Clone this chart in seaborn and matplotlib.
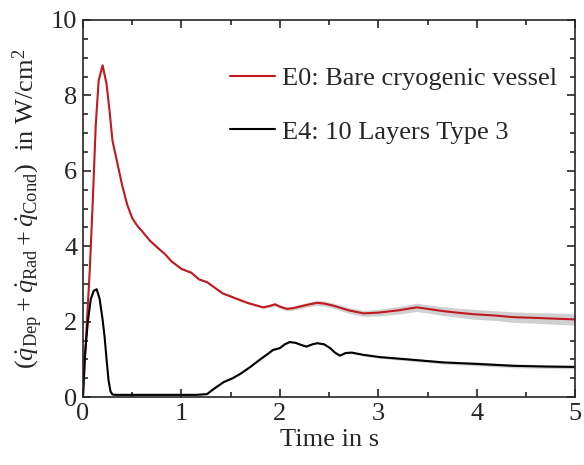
import numpy as np
import matplotlib
matplotlib.use("Agg")
import matplotlib.pyplot as plt
import seaborn as sns

# E0: bare cryogenic vessel (red)
t_e0 = [0.0, 0.03, 0.07, 0.1, 0.13, 0.16, 0.2, 0.24, 0.27, 0.3, 0.35, 0.4, 0.45, 0.5, 0.55,
        0.6, 0.68, 0.75, 0.83, 0.9, 1.0, 1.1, 1.18, 1.26, 1.35, 1.42, 1.55, 1.67, 1.75, 1.83,
        1.9, 1.95, 2.0, 2.07, 2.14, 2.2, 2.3, 2.38, 2.45, 2.55, 2.7, 2.85, 3.0, 3.2, 3.39,
        3.5, 3.66, 3.8, 3.96, 4.2, 4.37, 4.6, 4.8, 5.0]
q_e0 = [0.0, 1.5, 3.4, 5.2, 7.2, 8.4, 8.8, 8.3, 7.6, 6.8, 6.2, 5.6, 5.1, 4.75, 4.55,
        4.4, 4.15, 3.98, 3.8, 3.6, 3.4, 3.3, 3.12, 3.05, 2.88, 2.75, 2.62, 2.5, 2.44, 2.38,
        2.42, 2.46, 2.4, 2.34, 2.36, 2.4, 2.46, 2.5, 2.48, 2.42, 2.3, 2.22, 2.24,
        2.3, 2.38, 2.34, 2.28, 2.24, 2.2, 2.16, 2.12, 2.1, 2.08, 2.06]
err_e0 = [0.02] * 15 + [0.03] * 15 + [0.04, 0.04, 0.05, 0.05, 0.05, 0.06, 0.06, 0.07, 0.07, 0.07,
          0.08, 0.08, 0.09, 0.1, 0.11, 0.11, 0.12, 0.12, 0.13, 0.13, 0.14, 0.14, 0.15, 0.15]

# E4: 10 layers type 3 (black)
t_e4 = [0.0, 0.02, 0.05, 0.08, 0.11, 0.14, 0.17, 0.2, 0.22, 0.24, 0.26, 0.28, 0.3, 0.33,
        0.5, 0.8, 1.0, 1.15, 1.26, 1.33, 1.43, 1.52, 1.6, 1.7, 1.8, 1.88, 1.93, 2.0, 2.05,
        2.1, 2.16, 2.22, 2.27, 2.33, 2.38, 2.45, 2.51, 2.56, 2.61, 2.67, 2.73, 2.85, 3.02,
        3.3, 3.66, 4.0, 4.37, 4.7, 5.0]
q_e4 = [0.0, 1.1, 2.0, 2.6, 2.82, 2.86, 2.6, 2.05, 1.6, 1.0, 0.45, 0.15, 0.07, 0.06,
        0.06, 0.06, 0.06, 0.06, 0.08, 0.22, 0.4, 0.5, 0.62, 0.8, 1.0, 1.15, 1.25, 1.3, 1.4,
        1.46, 1.44, 1.38, 1.34, 1.4, 1.43, 1.4, 1.3, 1.18, 1.1, 1.17, 1.18, 1.12, 1.06,
        1.0, 0.92, 0.88, 0.83, 0.81, 0.8]
err_e4 = [0.02] * 40 + [0.03, 0.03, 0.03, 0.04, 0.04, 0.05, 0.05, 0.05, 0.05]

sns.set_style("ticks")
plt.rcParams["font.family"] = ["Liberation Serif", "DejaVu Serif"]
plt.rcParams["mathtext.fontset"] = "custom"
plt.rcParams["mathtext.rm"] = "Liberation Serif"
plt.rcParams["mathtext.it"] = "Liberation Serif:italic"
plt.rcParams["mathtext.bf"] = "Liberation Serif:bold"

fig = plt.figure(figsize=(5.84, 4.65), dpi=100)
ax = fig.add_axes([0.142, 0.146, 0.843, 0.811])

red = "#c01a1f"
e0_lo = np.array(q_e0) - np.array(err_e0)
e0_hi = np.array(q_e0) + np.array(err_e0)
e4_lo = np.array(q_e4) - np.array(err_e4)
e4_hi = np.array(q_e4) + np.array(err_e4)
ax.fill_between(t_e0, e0_lo, e0_hi, color="#d0d0d0", lw=0)
ax.fill_between(t_e4, e4_lo, e4_hi, color="#d0d0d0", lw=0)
sns.lineplot(x=t_e0, y=q_e0, ax=ax, color=red, lw=1.5, sort=False, label="E0: Bare cryogenic vessel")
sns.lineplot(x=t_e4, y=q_e4, ax=ax, color="black", lw=1.5, sort=False, label="E4: 10 Layers Type 3")

ax.set_xlim(0, 5)
ax.set_ylim(0, 10)
ax.set_xticks([0, 1, 2, 3, 4, 5])
ax.set_yticks([0, 2, 4, 6, 8, 10])
ax.set_xticks(np.arange(0, 5.01, 0.5), minor=True)
ax.set_yticks(np.arange(0, 10.01, 0.5), minor=True)
ax.tick_params(which="both", direction="in", top=True, right=True, labelsize=19, width=1.2, pad=4)
ax.tick_params(which="major", length=6)
ax.tick_params(which="minor", length=3.5)
for s in ax.spines.values():
    s.set_linewidth(1.2)

ax.set_xlabel("Time in s", fontsize=19, labelpad=3)
ax.set_ylabel(r"$(\dot{q}_{\mathrm{Dep}}+\dot{q}_{\mathrm{Rad}}+\dot{q}_{\mathrm{Cond}})$  in W/cm$^2$",
              fontsize=19, labelpad=4)

ax.legend(loc="upper right", frameon=False, fontsize=19, handlelength=1.7,
          handletextpad=0.25, labelspacing=1.15, borderaxespad=0, bbox_to_anchor=(0.984, 0.905))

fig.savefig("out.png", dpi=100)
